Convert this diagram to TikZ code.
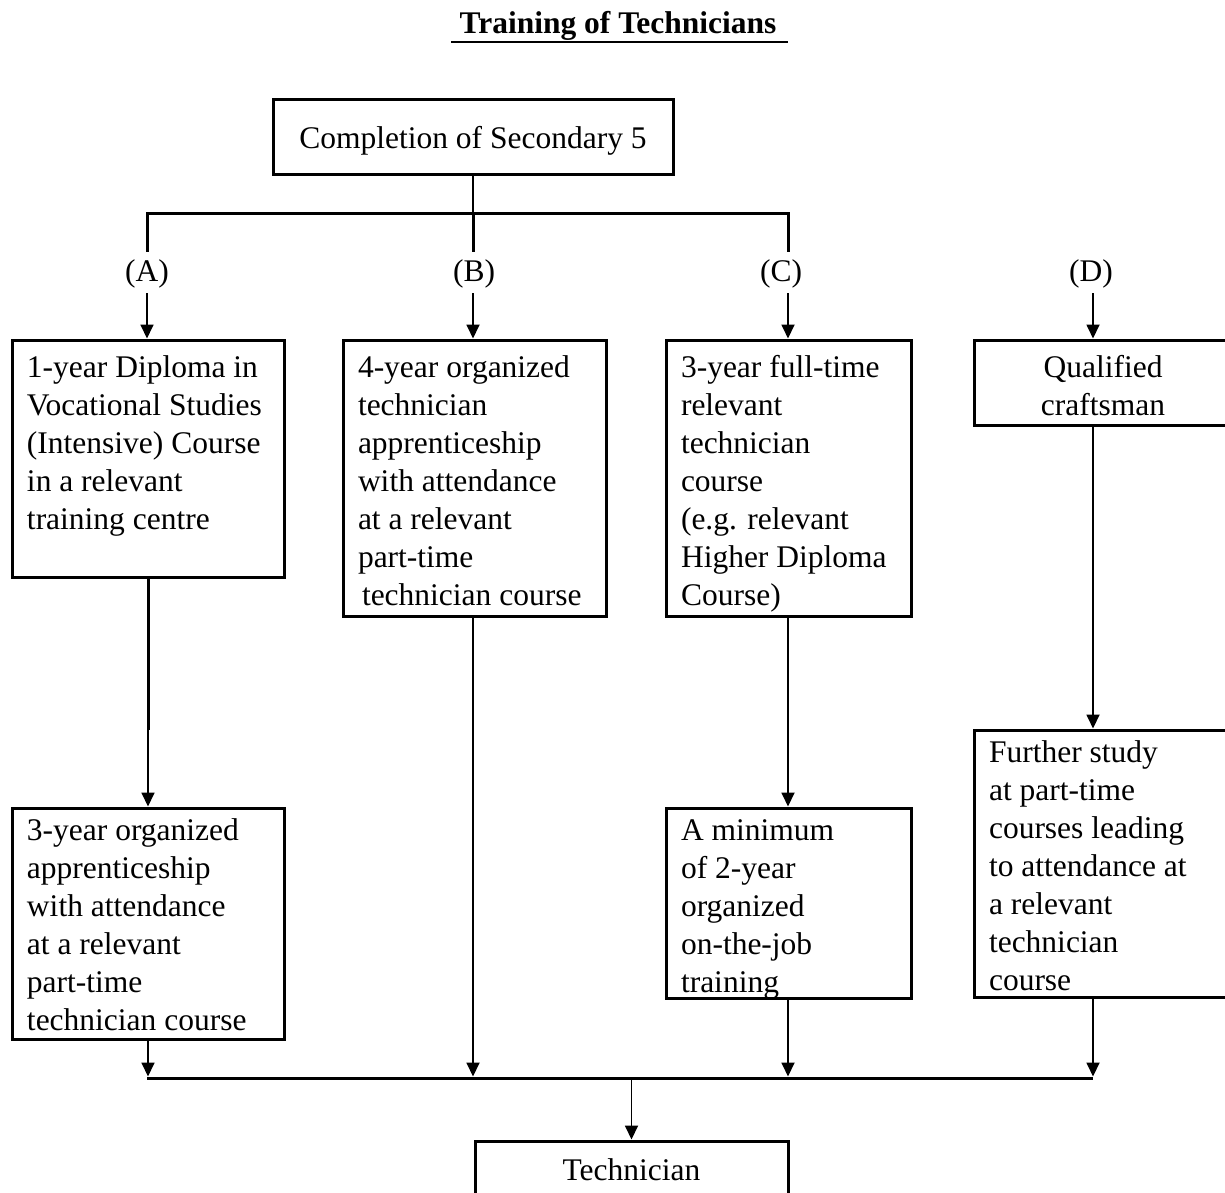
\documentclass[tikz,border=0pt]{standalone}
\usepackage{fontspec}
\setmainfont{Liberation Serif}
\usetikzlibrary{arrows.meta}

% body text size and line spacing
\newcommand\bodyfont{\fontsize{31.5pt}{38pt}\selectfont}
% fixed-size cell: width, height, gap above first line, lines
\newcommand\leftcell[4]{\parbox[c][#2][t]{#1}{\vspace*{#3}\raggedright\strut #4}}
\newcommand\midcell[4]{\parbox[c][#2][t]{#1}{\vspace*{#3}\centering\strut #4}}

\begin{document}
\begin{tikzpicture}[x=1pt,y=-1pt,
  stage/.style={draw, line width=3pt, inner xsep=15pt, inner ysep=0pt,
    outer sep=0pt, anchor=north west, font=\bodyfont},
  tag/.style={inner sep=0pt, text height=29pt, text depth=12pt,
    anchor=base, font=\bodyfont},
  bar/.style={line width=3pt},
  stem/.style={line width=2.2pt},
  flow/.style={line width=1.8pt, -{Triangle[length=14pt,width=13pt]},
    shorten >=1.5pt},
]
\fill[white] (0,0) rectangle (1225,1192);
\clip (0,0) rectangle (1225,1192);

% heading
\node[font=\bodyfont\bfseries, inner sep=0pt, anchor=base] (title) at (618,33)
  {Training of Technicians};
\coordinate (ulL) at (451,42);
\coordinate (ulR) at (788,42);
\draw[line width=2.5pt] (ulL) -- (ulR);

% starting point
\node[stage] (top) at (273,99)
  {\midcell{370pt}{75pt}{22.4pt}{Completion of Secondary 5}};

% route labels
\node[tag] (labA) at (147,281) {(A)};
\node[tag] (labB) at (474,281) {(B)};
\node[tag] (labC) at (781,281) {(C)};
\node[tag] (labD) at (1091,281) {(D)};

% first-stage boxes
\node[stage] (a1) at (12,340)
  {\leftcell{242pt}{237pt}{10.4pt}{1-year Diploma in\\Vocational Studies\\(Intensive) Course\\in a relevant\\training centre}};
\node[stage] (b1) at (343,340)
  {\leftcell{233pt}{276pt}{10.4pt}{4-year organized\\technician\\apprenticeship\\with attendance\\at a relevant\\part-time\\\hspace*{4pt}technician course}};
\node[stage] (c1) at (666,340)
  {\leftcell{215pt}{276pt}{10.4pt}{3-year full-time\\relevant\\technician\\course\\(e.g. relevant\\Higher Diploma\\Course)}};
\node[stage] (d1) at (974,340)
  {\midcell{228pt}{85pt}{10.4pt}{Qualified\\craftsman}};

% second-stage boxes
\node[stage] (a2) at (12,808)
  {\leftcell{242pt}{231pt}{5.4pt}{3-year organized\\apprenticeship\\with attendance\\at a relevant\\part-time\\technician course}};
\node[stage] (c2) at (666,808)
  {\leftcell{215pt}{190pt}{5.4pt}{A minimum\\of 2-year\\organized\\on-the-job\\training}};
\node[stage] (d2) at (974,730)
  {\leftcell{228pt}{267pt}{5.4pt}{Further study\\at part-time\\courses leading\\to attendance at\\a relevant\\technician\\course}};

% outcome
\node[stage] (tech) at (475,1141)
  {\midcell{283pt}{62pt}{12.4pt}{Technician}};

% branching from the top box
\coordinate (jA) at (147,213);
\coordinate (jB) at (473,213);
\coordinate (jC) at (788,213);
\coordinate (colD) at (1093,293);
\draw[stem] (top.south) -- (jB);
\draw[bar] (jA |- labA.north) -- (jA) -- (jC) -- (jC |- labC.north);
\draw[bar] (jB) -- (jB |- labB.north);

\draw[flow] (jA |- labA.south) -- (jA |- a1.north);
\draw[flow] (jB |- labB.south) -- (jB |- b1.north);
\draw[flow] (jC |- labC.south) -- (jC |- c1.north);
\draw[flow] (colD |- labD.south) -- (colD |- d1.north);

% between stages
\coordinate (kA) at (148,730);
\draw[bar] (a1.south) -- (kA);
\draw[flow] (kA) -- (a2.north);
\draw[flow] (jC |- c1.south) -- (jC |- c2.north);
\draw[flow] (colD |- d1.south) -- (colD |- d2.north);

% collecting line
\coordinate (busL) at (147,1078);
\coordinate (busR) at (1093,1078);
\draw[flow] (a2.south) -- (a2.south |- busL);
\draw[flow] (jB |- b1.south) -- (jB |- busL);
\draw[flow] (jC |- c2.south) -- (jC |- busL);
\draw[flow] (colD |- d2.south) -- (colD |- busL);
\draw[bar] (busL) -- (busR);
\coordinate (busT) at (tech.north |- busL);
\draw[flow] (busT) -- (tech.north);
\end{tikzpicture}
\end{document}
